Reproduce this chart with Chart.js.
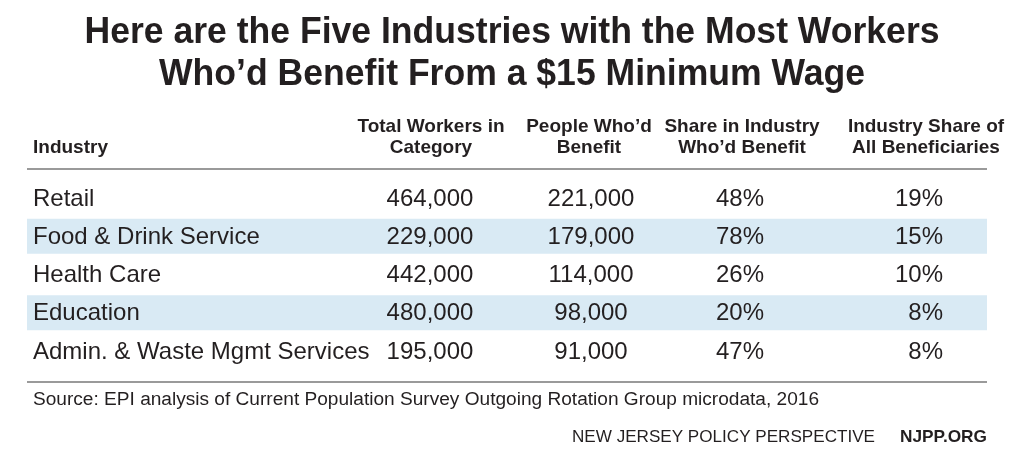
<!DOCTYPE html>
<html lang="en">
<head>
<meta charset="UTF-8" />
<title>Five Industries - $15 Minimum Wage</title>
<script src="https://cdn.jsdelivr.net/npm/chart.js"></script>
<style>
  html, body { margin: 0; padding: 0; background: #fff; }
  #wrap { width: 1024px; height: 460px; }
</style>
</head>
<body>
<div id="wrap"><canvas id="table" width="1024" height="460"></canvas></div>
<script>
  // table data
  const industries = ['Retail', 'Food & Drink Service', 'Health Care', 'Education', 'Admin. & Waste Mgmt Services'];
  const totalWorkers = [464000, 229000, 442000, 480000, 195000];
  const beneficiaries = [221000, 179000, 114000, 98000, 91000];
  const shareInIndustry = [48, 78, 26, 20, 47];
  const shareOfAll = [19, 15, 10, 8, 8];
  const shadedRows = [false, true, false, true, false];
  const headers = [
    ['Industry'],
    ['Total Workers in', 'Category'],
    ['People Who\u2019d', 'Benefit'],
    ['Share in Industry', 'Who\u2019d Benefit'],
    ['Industry Share of', 'All Beneficiaries']
  ];
  const titleLines = ['Here are the Five Industries with the Most Workers', 'Who\u2019d Benefit From a $15 Minimum Wage'];
  const sourceText = 'Source: EPI analysis of Current Population Survey Outgoing Rotation Group microdata, 2016';

  const INK = '#231f20';
  const SANS = '"Liberation Sans", Arial, Helvetica, sans-serif';

  // column anchors in x-scale units (table is 0..960 wide)
  const colX = [6, 403, 564, 713, 916];
  const colAlign = ['left', 'center', 'center', 'center', 'right'];
  const headX = [6, 404, 562, 715, 899];
  const headAlign = ['left', 'center', 'center', 'center', 'center'];

  const fmt = n => n.toLocaleString('en-US');
  const cells = industries.map((name, i) => [
    name, fmt(totalWorkers[i]), fmt(beneficiaries[i]), shareInIndustry[i] + '%', shareOfAll[i] + '%'
  ]);

  // draw text stretched/squeezed horizontally by sx
  function squeezed(ctx, txt, px, py, align, sx) {
    ctx.save();
    ctx.translate(px, py);
    ctx.scale(sx, 1);
    ctx.textAlign = align;
    ctx.fillText(txt, 0, 0);
    ctx.restore();
  }
  // factor so that txt spans width px in the current font
  const fitFactor = (ctx, txt, width) => width / ctx.measureText(txt).width;

  const tablePlugin = {
    id: 'tableText',
    afterDatasetsDraw(chart) {
      const { ctx, scales: { x, y } } = chart;
      ctx.save();
      ctx.fillStyle = INK;
      ctx.font = '24px ' + SANS;
      ctx.textBaseline = 'middle';
      cells.forEach((row, i) => {
        const py = y.getPixelForValue(i) + 1;
        row.forEach((txt, c) => {
          ctx.textAlign = colAlign[c];
          ctx.fillText(txt, x.getPixelForValue(colX[c]), py);
        });
      });
      ctx.restore();
    },
    afterDraw(chart) {
      const { ctx, chartArea, scales: { x } } = chart;
      ctx.save();
      ctx.fillStyle = INK;

      // title
      ctx.font = 'bold 36px ' + SANS;
      ctx.textBaseline = 'alphabetic';
      const tf = fitFactor(ctx, titleLines[0], 855);
      squeezed(ctx, titleLines[0], 512, 43, 'center', tf);
      squeezed(ctx, titleLines[1], 512, 85, 'center', tf);

      // column headers
      ctx.font = 'bold 19px ' + SANS;
      ctx.textBaseline = 'middle';
      headers.forEach((lines, c) => {
        ctx.textAlign = headAlign[c];
        const px = x.getPixelForValue(headX[c]);
        const start = lines.length === 1 ? 1 : 0;
        lines.forEach((l, k) => ctx.fillText(l, px, chartArea.top - 52 + (start + k) * 21));
      });

      // rules
      ctx.strokeStyle = '#9a9a9a';
      ctx.lineWidth = 2;
      [chartArea.top - 10, chartArea.bottom + 12].forEach(ry => {
        ctx.beginPath();
        ctx.moveTo(x.left, ry);
        ctx.lineTo(x.right, ry);
        ctx.stroke();
      });

      // source + footer
      ctx.font = '18px ' + SANS;
      squeezed(ctx, sourceText, 33, chartArea.bottom + 30, 'left', fitFactor(ctx, sourceText, 786));
      ctx.font = 'bold 17px ' + SANS;
      squeezed(ctx, 'NJPP.ORG', 987, 437, 'right', fitFactor(ctx, 'NJPP.ORG', 87));
      ctx.font = '17px ' + SANS;
      const foot = 'NEW JERSEY POLICY PERSPECTIVE';
      squeezed(ctx, foot, 875, 437, 'right', fitFactor(ctx, foot, 303));
      ctx.restore();
    }
  };

  new Chart(document.getElementById('table'), {
    type: 'bar',
    data: {
      labels: industries,
      datasets: [{
        data: shadedRows.map(s => s ? [0, 960] : null),
        backgroundColor: '#d9eaf4',
        borderWidth: 0,
        categoryPercentage: 1,
        barPercentage: 0.92
      }]
    },
    options: {
      indexAxis: 'y',
      responsive: false,
      animation: false,
      layout: { padding: { left: 27, right: 37, top: 179, bottom: 90 } },
      plugins: { legend: { display: false }, tooltip: { enabled: false }, title: { display: false } },
      scales: {
        x: { display: false, min: 0, max: 960 },
        y: { display: false }
      }
    },
    plugins: [tablePlugin]
  });
</script>
</body>
</html>
